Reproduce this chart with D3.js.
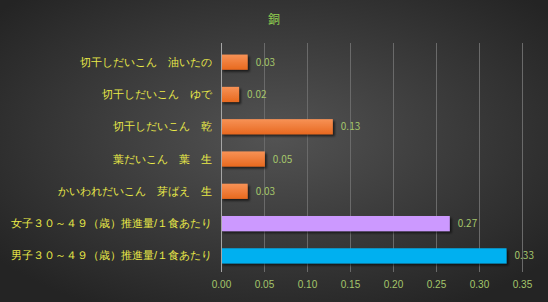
<!DOCTYPE html>
<html>
<head>
<meta charset="utf-8">
<script src="https://cdn.jsdelivr.net/npm/d3@7"></script>
<style>
  body { margin: 0; background: #2a2a2a; }
  svg { display: block; }
</style>
</head>
<body>
<div id="chart"></div>
<script>
// chart data
const categories = [
    "切干しだいこん　油いたの",
    "切干しだいこん　ゆで",
    "切干しだいこん　乾",
    "葉だいこん　葉　生",
    "かいわれだいこん　芽ばえ　生",
    "女子３０～４９（歳）推進量/１食あたり",
    "男子３０～４９（歳）推進量/１食あたり"
];
const values = [0.031, 0.021, 0.13, 0.051, 0.031, 0.266, 0.332];
const valueLabels = ["0.03", "0.02", "0.13", "0.05", "0.03", "0.27", "0.33"];
const barKinds = ["food", "food", "food", "food", "food", "female", "male"];
const xTicks = [0, 0.05, 0.1, 0.15, 0.2, 0.25, 0.3, 0.35];
const title = "銅";

const W = 548, H = 302;
const margin = { top: 46, right: 26, bottom: 30, left: 221 };
const innerH = H - margin.top - margin.bottom;

const svg = d3.select("#chart").append("svg")
    .attr("width", W)
    .attr("height", H)
    .style("font-family", "'Noto Sans CJK JP', sans-serif");

const defs = svg.append("defs");
const bg = defs.append("radialGradient").attr("id", "bg")
    .attr("cx", "50%").attr("cy", "45%").attr("r", "65%");
bg.append("stop").attr("offset", "0%").attr("stop-color", "#535353");
bg.append("stop").attr("offset", "100%").attr("stop-color", "#242424");

const orange = defs.append("linearGradient").attr("id", "orange")
    .attr("x1", 0).attr("y1", 0).attr("x2", 0).attr("y2", 1);
orange.append("stop").attr("offset", "0%").attr("stop-color", "#f79256");
orange.append("stop").attr("offset", "100%").attr("stop-color", "#e8691f");

const shadow = defs.append("filter").attr("id", "shadow")
    .attr("x", "-10%").attr("y", "-30%").attr("width", "130%").attr("height", "180%");
shadow.append("feDropShadow").attr("dx", 2).attr("dy", 2)
    .attr("stdDeviation", 1.2).attr("flood-color", "#000").attr("flood-opacity", 0.6);

svg.append("rect").attr("width", W).attr("height", H).attr("fill", "url(#bg)");

svg.append("text")
    .attr("x", 274).attr("y", 24)
    .attr("text-anchor", "middle")
    .attr("fill", "#92d050")
    .style("font-size", "12px")
    .text(title);

const g = svg.append("g").attr("transform", `translate(${margin.left},${margin.top})`);

const x = d3.scaleLinear().domain([0, 0.35]).range([0, 301]);
const y = d3.scaleBand().domain(categories).range([0, innerH]).paddingInner(0.53).paddingOuter(0.265);

// gridlines
g.append("g")
    .selectAll("line")
    .data(xTicks.slice(1))
    .join("line")
    .attr("x1", d => x(d) + 0.5).attr("x2", d => x(d) + 0.5)
    .attr("y1", -3).attr("y2", innerH)
    .attr("stroke", "#6a6a6a")
    .attr("stroke-width", 1);

// bars
const fills = { food: "url(#orange)", female: "#cc99ff", male: "#00b0f0" };
g.append("g")
    .selectAll("rect")
    .data(values)
    .join("rect")
    .attr("x", 0)
    .attr("y", (d, i) => y(categories[i]))
    .attr("width", d => x(d))
    .attr("height", y.bandwidth())
    .attr("fill", (d, i) => fills[barKinds[i]])
    .attr("filter", "url(#shadow)");

// value labels
g.append("g")
    .selectAll("text")
    .data(values)
    .join("text")
    .attr("x", d => x(d) + 8)
    .attr("y", (d, i) => y(categories[i]) + y.bandwidth() / 2)
    .attr("dy", "0.35em")
    .attr("fill", "#a5c66b")
    .style("font-size", "10px")
    .text((d, i) => valueLabels[i]);

// y axis
const yAxis = g.append("g").call(d3.axisLeft(y).tickSize(0).tickPadding(9));
yAxis.select(".domain").attr("stroke", "#a6a6a6").attr("d", `M0.5,-3V${innerH}`);
yAxis.selectAll("text")
    .attr("fill", "#eaea48")
    .style("font-size", "11px");

// x axis
const xAxis = g.append("g")
    .attr("transform", `translate(0,${innerH})`)
    .call(d3.axisBottom(x).tickValues(xTicks).tickFormat(d3.format(".2f")).tickSize(0).tickPadding(9));
xAxis.select(".domain").remove();
xAxis.selectAll("text")
    .attr("fill", "#a5c66b")
    .style("font-size", "10px");
</script>
</body>
</html>
